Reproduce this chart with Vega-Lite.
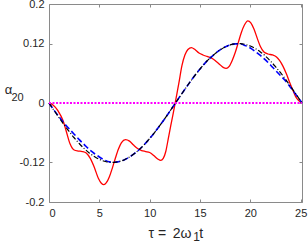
{
  "$schema": "https://vega.github.io/schema/vega-lite/v6.json",
  "width": 253,
  "height": 198,
  "autosize": {"type": "none"},
  "padding": {"left": 49, "top": 4, "right": 6, "bottom": 43},
  "background": "white",
  "config": {
    "view": {"stroke": "#8a8a8a", "strokeWidth": 1},
    "axis": {
      "labelFont": "Liberation Sans",
      "labelFontSize": 11,
      "labelColor": "#262626",
      "titleFont": "Liberation Sans",
      "titleColor": "#262626",
      "titleFontWeight": "normal",
      "tickColor": "#8a8a8a",
      "domain": false,
      "grid": false
    }
  },
  "data": {
    "values": [
      {"s": "red", "t": 0, "v": 0},
      {"s": "red", "t": 0.4, "v": -0.004},
      {"s": "red", "t": 0.9, "v": -0.016},
      {"s": "red", "t": 1.4, "v": -0.036},
      {"s": "red", "t": 1.7, "v": -0.056},
      {"s": "red", "t": 2.1, "v": -0.083},
      {"s": "red", "t": 2.5, "v": -0.095},
      {"s": "red", "t": 2.9, "v": -0.097},
      {"s": "red", "t": 3.3, "v": -0.098},
      {"s": "red", "t": 3.7, "v": -0.101},
      {"s": "red", "t": 4.1, "v": -0.112},
      {"s": "red", "t": 4.5, "v": -0.13},
      {"s": "red", "t": 4.9, "v": -0.152},
      {"s": "red", "t": 5.2, "v": -0.162},
      {"s": "red", "t": 5.45, "v": -0.165},
      {"s": "red", "t": 5.7, "v": -0.161},
      {"s": "red", "t": 6.0, "v": -0.149},
      {"s": "red", "t": 6.3, "v": -0.131},
      {"s": "red", "t": 6.6, "v": -0.111},
      {"s": "red", "t": 6.9, "v": -0.093},
      {"s": "red", "t": 7.2, "v": -0.08},
      {"s": "red", "t": 7.6, "v": -0.074},
      {"s": "red", "t": 8.0, "v": -0.077},
      {"s": "red", "t": 8.4, "v": -0.085},
      {"s": "red", "t": 8.8, "v": -0.092},
      {"s": "red", "t": 9.2, "v": -0.096},
      {"s": "red", "t": 9.6, "v": -0.098},
      {"s": "red", "t": 10.0, "v": -0.1},
      {"s": "red", "t": 10.4, "v": -0.106},
      {"s": "red", "t": 10.8, "v": -0.113},
      {"s": "red", "t": 11.1, "v": -0.116},
      {"s": "red", "t": 11.35, "v": -0.112},
      {"s": "red", "t": 11.6, "v": -0.098},
      {"s": "red", "t": 11.85, "v": -0.072},
      {"s": "red", "t": 12.1, "v": -0.045},
      {"s": "red", "t": 12.3, "v": -0.025},
      {"s": "red", "t": 12.5, "v": -0.004},
      {"s": "red", "t": 12.7, "v": 0.018},
      {"s": "red", "t": 12.9, "v": 0.04},
      {"s": "red", "t": 13.2, "v": 0.075},
      {"s": "red", "t": 13.5, "v": 0.097},
      {"s": "red", "t": 13.8, "v": 0.108},
      {"s": "red", "t": 14.15, "v": 0.112},
      {"s": "red", "t": 14.5, "v": 0.108},
      {"s": "red", "t": 14.9, "v": 0.101},
      {"s": "red", "t": 15.3, "v": 0.097},
      {"s": "red", "t": 15.7, "v": 0.094},
      {"s": "red", "t": 16.1, "v": 0.091},
      {"s": "red", "t": 16.5, "v": 0.086},
      {"s": "red", "t": 16.9, "v": 0.079},
      {"s": "red", "t": 17.3, "v": 0.072},
      {"s": "red", "t": 17.6, "v": 0.07},
      {"s": "red", "t": 17.9, "v": 0.074},
      {"s": "red", "t": 18.2, "v": 0.086},
      {"s": "red", "t": 18.5, "v": 0.102},
      {"s": "red", "t": 18.8, "v": 0.122},
      {"s": "red", "t": 19.1, "v": 0.142},
      {"s": "red", "t": 19.4, "v": 0.157},
      {"s": "red", "t": 19.75, "v": 0.166},
      {"s": "red", "t": 20.05, "v": 0.162},
      {"s": "red", "t": 20.35, "v": 0.15},
      {"s": "red", "t": 20.7, "v": 0.13},
      {"s": "red", "t": 21.0, "v": 0.114},
      {"s": "red", "t": 21.35, "v": 0.103},
      {"s": "red", "t": 21.75, "v": 0.099},
      {"s": "red", "t": 22.2, "v": 0.097},
      {"s": "red", "t": 22.6, "v": 0.093},
      {"s": "red", "t": 22.9, "v": 0.086},
      {"s": "red", "t": 23.25, "v": 0.074},
      {"s": "red", "t": 23.6, "v": 0.058},
      {"s": "red", "t": 23.9, "v": 0.042},
      {"s": "red", "t": 24.2, "v": 0.027},
      {"s": "red", "t": 24.5, "v": 0.013},
      {"s": "red", "t": 24.8, "v": 0.005},
      {"s": "red", "t": 25.133, "v": 0},

      {"s": "black", "t": 0, "v": 0},
      {"s": "black", "t": 0.5, "v": -0.015},
      {"s": "black", "t": 1, "v": -0.0297},
      {"s": "black", "t": 1.5, "v": -0.044},
      {"s": "black", "t": 2, "v": -0.0575},
      {"s": "black", "t": 2.5, "v": -0.0702},
      {"s": "black", "t": 3, "v": -0.0818},
      {"s": "black", "t": 3.5, "v": -0.0921},
      {"s": "black", "t": 4, "v": -0.101},
      {"s": "black", "t": 4.5, "v": -0.1083},
      {"s": "black", "t": 5, "v": -0.1139},
      {"s": "black", "t": 5.5, "v": -0.1177},
      {"s": "black", "t": 6, "v": -0.1197},
      {"s": "black", "t": 6.5, "v": -0.1198},
      {"s": "black", "t": 7, "v": -0.1181},
      {"s": "black", "t": 7.5, "v": -0.1145},
      {"s": "black", "t": 8, "v": -0.1091},
      {"s": "black", "t": 8.5, "v": -0.102},
      {"s": "black", "t": 9, "v": -0.0934},
      {"s": "black", "t": 9.5, "v": -0.0833},
      {"s": "black", "t": 10, "v": -0.0718},
      {"s": "black", "t": 10.5, "v": -0.0592},
      {"s": "black", "t": 11, "v": -0.0458},
      {"s": "black", "t": 11.5, "v": -0.0317},
      {"s": "black", "t": 12, "v": -0.0169},
      {"s": "black", "t": 12.5, "v": -0.002},
      {"s": "black", "t": 13, "v": 0.013},
      {"s": "black", "t": 13.5, "v": 0.0277},
      {"s": "black", "t": 14, "v": 0.0421},
      {"s": "black", "t": 14.5, "v": 0.056},
      {"s": "black", "t": 15, "v": 0.0686},
      {"s": "black", "t": 15.5, "v": 0.0806},
      {"s": "black", "t": 16, "v": 0.0908},
      {"s": "black", "t": 16.5, "v": 0.0998},
      {"s": "black", "t": 17, "v": 0.1074},
      {"s": "black", "t": 17.5, "v": 0.1133},
      {"s": "black", "t": 18, "v": 0.1173},
      {"s": "black", "t": 18.5, "v": 0.1195},
      {"s": "black", "t": 19, "v": 0.1199},
      {"s": "black", "t": 19.5, "v": 0.1184},
      {"s": "black", "t": 20, "v": 0.1151},
      {"s": "black", "t": 20.5, "v": 0.11},
      {"s": "black", "t": 21, "v": 0.1031},
      {"s": "black", "t": 21.5, "v": 0.0948},
      {"s": "black", "t": 22, "v": 0.0847},
      {"s": "black", "t": 22.5, "v": 0.0734},
      {"s": "black", "t": 23, "v": 0.0612},
      {"s": "black", "t": 23.5, "v": 0.048},
      {"s": "black", "t": 24, "v": 0.0335},
      {"s": "black", "t": 24.5, "v": 0.0189},
      {"s": "black", "t": 25, "v": 0.004},
      {"s": "black", "t": 25.133, "v": 0},

      {"s": "blue", "t": 0, "v": 0},
      {"s": "blue", "t": 0.5, "v": -0.0145},
      {"s": "blue", "t": 1, "v": -0.028},
      {"s": "blue", "t": 1.5, "v": -0.041},
      {"s": "blue", "t": 2, "v": -0.052},
      {"s": "blue", "t": 2.5, "v": -0.063},
      {"s": "blue", "t": 3, "v": -0.074},
      {"s": "blue", "t": 3.5, "v": -0.084},
      {"s": "blue", "t": 4, "v": -0.094},
      {"s": "blue", "t": 4.5, "v": -0.102},
      {"s": "blue", "t": 5, "v": -0.109},
      {"s": "blue", "t": 5.5, "v": -0.115},
      {"s": "blue", "t": 6, "v": -0.119},
      {"s": "blue", "t": 6.5, "v": -0.1198},
      {"s": "blue", "t": 7, "v": -0.1181},
      {"s": "blue", "t": 7.5, "v": -0.1145},
      {"s": "blue", "t": 8, "v": -0.1091},
      {"s": "blue", "t": 8.5, "v": -0.102},
      {"s": "blue", "t": 9, "v": -0.0934},
      {"s": "blue", "t": 9.5, "v": -0.0833},
      {"s": "blue", "t": 10, "v": -0.0718},
      {"s": "blue", "t": 10.5, "v": -0.0592},
      {"s": "blue", "t": 11, "v": -0.0458},
      {"s": "blue", "t": 11.5, "v": -0.0317},
      {"s": "blue", "t": 12, "v": -0.0169},
      {"s": "blue", "t": 12.5, "v": -0.002},
      {"s": "blue", "t": 13, "v": 0.013},
      {"s": "blue", "t": 13.5, "v": 0.0277},
      {"s": "blue", "t": 14, "v": 0.0421},
      {"s": "blue", "t": 14.5, "v": 0.056},
      {"s": "blue", "t": 15, "v": 0.0686},
      {"s": "blue", "t": 15.5, "v": 0.0806},
      {"s": "blue", "t": 16, "v": 0.0908},
      {"s": "blue", "t": 16.5, "v": 0.0998},
      {"s": "blue", "t": 17, "v": 0.1074},
      {"s": "blue", "t": 17.5, "v": 0.1133},
      {"s": "blue", "t": 18, "v": 0.1173},
      {"s": "blue", "t": 18.5, "v": 0.1195},
      {"s": "blue", "t": 19, "v": 0.1192},
      {"s": "blue", "t": 19.5, "v": 0.1159},
      {"s": "blue", "t": 20, "v": 0.1111},
      {"s": "blue", "t": 20.5, "v": 0.104},
      {"s": "blue", "t": 21, "v": 0.0961},
      {"s": "blue", "t": 21.5, "v": 0.087},
      {"s": "blue", "t": 22, "v": 0.0769},
      {"s": "blue", "t": 22.5, "v": 0.066},
      {"s": "blue", "t": 23, "v": 0.0552},
      {"s": "blue", "t": 23.5, "v": 0.0445},
      {"s": "blue", "t": 24, "v": 0.0315},
      {"s": "blue", "t": 24.5, "v": 0.0179},
      {"s": "blue", "t": 25, "v": 0.004},
      {"s": "blue", "t": 25.133, "v": 0},

      {"s": "zero", "t": 0, "v": 0},
      {"s": "zero", "t": 25.133, "v": 0}
    ]
  },
  "layer": [
    {
      "encoding": {
        "x": {
          "field": "t",
          "type": "quantitative",
          "scale": {"domain": [0, 25.133], "nice": false, "zero": false},
          "axis": {
            "orient": "bottom",
            "values": [0, 5, 10, 15, 20, 25],
            "tickSize": -3,
            "labelPadding": 8,
            "title": "τ = \u20092ω\u00a0\u00a0t",
            "titleFontSize": 14,
            "titleAlign": "left",
            "titleBaseline": "alphabetic",
            "titleX": 99,
            "titleY": 35
          }
        },
        "y": {
          "field": "v",
          "type": "quantitative",
          "scale": {"domain": [-0.2, 0.2], "nice": false, "zero": false},
          "axis": {
            "orient": "left",
            "values": [-0.2, -0.12, 0, 0.12, 0.2],
            "labelExpr": "datum.value < 0 ? '-' + format(-datum.value, '') : format(datum.value, '')",
            "tickSize": -3,
            "labelPadding": 8,
            "title": "α",
            "titleFontSize": 13,
            "titleAngle": 0,
            "titleAlign": "center",
            "titleBaseline": "alphabetic",
            "titleX": -41,
            "titleY": 89
          }
        }
      },
      "layer": [
        {"transform": [{"filter": "datum.s == 'red'"}], "mark": {"type": "line", "color": "#ff0000", "strokeWidth": 1.3, "interpolate": "monotone"}},
        {"transform": [{"filter": "datum.s == 'blue'"}], "mark": {"type": "line", "color": "#0000ff", "strokeWidth": 1.6, "strokeDash": [6, 3], "interpolate": "monotone"}},
        {"transform": [{"filter": "datum.s == 'black'"}], "mark": {"type": "line", "color": "#000000", "strokeWidth": 1.2, "strokeDash": [5, 2, 1, 2], "interpolate": "monotone"}},
        {"transform": [{"filter": "datum.s == 'zero'"}], "mark": {"type": "line", "color": "#ff00ff", "strokeWidth": 2, "strokeDash": [2, 1.5]}}
      ]
    },
    {
      "transform": [{"filter": "datum.s == 'zero'"}],
      "mark": {"type": "line", "opacity": 0},
      "encoding": {
        "x": {
          "field": "t",
          "type": "quantitative",
          "axis": {
            "orient": "top",
            "values": [0, 5, 10, 15, 20, 25],
            "labels": false,
            "tickSize": -3,
            "title": "1",
            "titleFontSize": 12,
            "titleAlign": "center",
            "titleBaseline": "alphabetic",
            "titleX": 147,
            "titleY": 236
          }
        },
        "y": {
          "field": "v",
          "type": "quantitative",
          "axis": {
            "orient": "right",
            "values": [-0.2, -0.12, 0, 0.12, 0.2],
            "labels": false,
            "tickSize": -3,
            "title": "20",
            "titleFontSize": 11,
            "titleAngle": 0,
            "titleAlign": "center",
            "titleBaseline": "alphabetic",
            "titleX": -285,
            "titleY": 96
          }
        }
      }
    }
  ],
  "resolve": {"axis": {"x": "independent", "y": "independent"}}
}
